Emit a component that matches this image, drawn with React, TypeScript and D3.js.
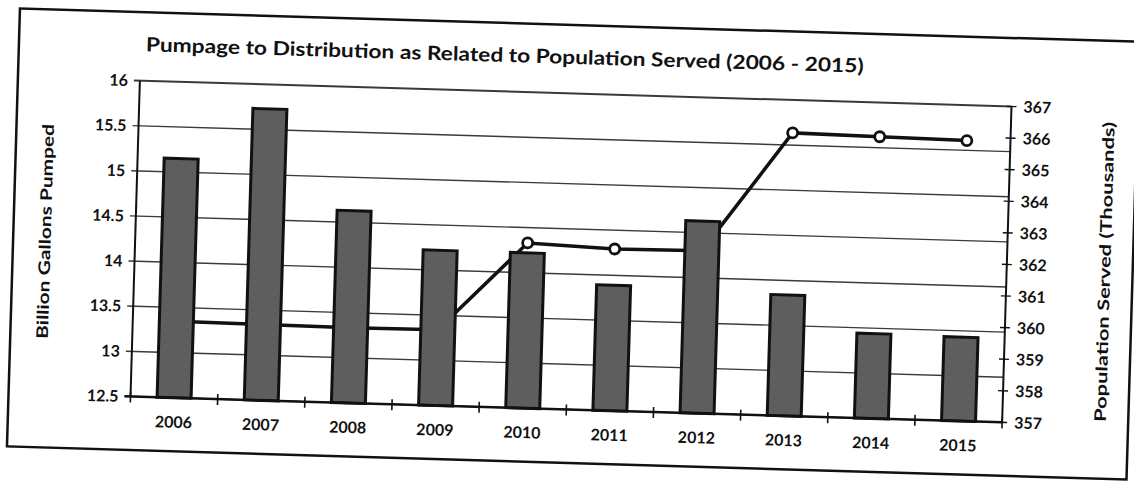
import React from "react";
import * as d3 from "d3";

const years = ["2006", "2007", "2008", "2009", "2010", "2011", "2012", "2013", "2014", "2015"];
const pumped = [15.15, 15.73, 14.63, 14.22, 14.22, 13.89, 14.63, 13.84, 13.44, 13.43];
const population = [359.42, 359.4, 359.38, 359.4, 362.23, 362.12, 362.15, 365.96, 365.92, 365.88];
const leftTicks = [12.5, 13, 13.5, 14, 14.5, 15, 15.5, 16];
const rightTicks = [357, 358, 359, 360, 361, 362, 363, 364, 365, 366, 367];

const title = "Pumpage to Distribution as Related to Population Served (2006 - 2015)";
const leftTitle = "Billion Gallons Pumped";
const rightTitle = "Population Served (Thousands)";

const W = 1134;
const H = 483;
const L = 135, R = 1007, T = 93.5, B = 409.5;
const FONT = "Lato, 'Open Sans', sans-serif";

export default function App() {
  const x = d3.scaleBand<string>().domain(years).range([L, R]).padding(0);
  const yL = d3.scaleLinear().domain([12.5, 16]).range([B, T]);
  const yR = d3.scaleLinear().domain([357, 367]).range([B, T]);
  const bw = x.bandwidth() * 0.39;
  const cx = (d: string) => (x(d) as number) + x.bandwidth() / 2;

  const line = d3
    .line<number>()
    .x((_, i) => cx(years[i]))
    .y((v) => yR(v));

  const boundaries = d3.range(0, years.length + 1).map((i) => L + i * x.bandwidth());

  return (
    <svg
      width={W}
      height={H}
      style={{ position: "absolute", left: 0, top: 0, background: "#fff" }}
      fontFamily={FONT}
    >
      <rect x={0} y={0} width={W} height={H} fill="#fff" />
      <g transform={`rotate(1.7, 571, 251.5)`}>
        {/* outer frame */}
        <rect x={13} y={25} width={1120} height={438} fill="none" stroke="#111" strokeWidth={2.5} />

        {/* title */}
        <text
          x={499}
          y={64}
          textAnchor="middle"
          fontSize={19.5}
          fontWeight={700}
          fill="#111"
          textLength={718}
          lengthAdjust="spacingAndGlyphs"
        >
          {title}
        </text>

        {/* gridlines */}
        {leftTicks.map((t) => (
          <line key={"g" + t} x1={L - 6} x2={R} y1={yL(t)} y2={yL(t)} stroke="#3a3a3a" strokeWidth={t === 16 ? 2 : 1.4} />
        ))}

        {/* population line (behind bars) */}
        <path d={line(population) || ""} fill="none" stroke="#111" strokeWidth={3.5} />
        {population.map((v, i) => (
          <circle key={"m" + i} cx={cx(years[i])} cy={yR(v)} r={5} fill="#fff" stroke="#111" strokeWidth={2.8} />
        ))}

        {/* bars */}
        {pumped.map((v, i) => (
          <rect
            key={"b" + i}
            x={cx(years[i]) - bw / 2}
            y={yL(v)}
            width={bw}
            height={B - yL(v)}
            fill="#5e5e5e"
            stroke="#111"
            strokeWidth={3}
          />
        ))}

        {/* axes */}
        <line x1={L} x2={L} y1={T} y2={B} stroke="#111" strokeWidth={2} />
        <line x1={R} x2={R} y1={T} y2={B} stroke="#111" strokeWidth={2} />
        <line x1={L - 6} x2={R} y1={B} y2={B} stroke="#111" strokeWidth={2.5} />
        {boundaries.map((bx, i) => (
          <line key={"xt" + i} x1={bx} x2={bx} y1={B - 5} y2={B + 6} stroke="#111" strokeWidth={1.6} />
        ))}
        {rightTicks.map((t) => (
          <line key={"rt" + t} x1={R - 5} x2={R + 5} y1={yR(t)} y2={yR(t)} stroke="#111" strokeWidth={1.4} />
        ))}

        {/* tick labels */}
        {leftTicks.map((t) => (
          <text key={"lt" + t} x={L - 12} y={yL(t)} dy="0.36em" textAnchor="end" fontSize={16} fontWeight={700} fill="#111">
            {String(t)}
          </text>
        ))}
        {rightTicks.map((t) => (
          <text key={"rl" + t} x={R + 12} y={yR(t)} dy="0.36em" textAnchor="start" fontSize={16} fontWeight={700} fill="#111">
            {String(t)}
          </text>
        ))}
        {years.map((yv) => (
          <text key={"xl" + yv} x={cx(yv)} y={B + 30} textAnchor="middle" fontSize={16} fontWeight={700} fill="#111">
            {yv}
          </text>
        ))}

        {/* axis titles */}
        <text
          transform={`translate(45, 247) rotate(-90)`}
          textAnchor="middle"
          dy="0.35em"
          fontSize={16}
          fontWeight={700}
          fill="#111"
          textLength={215}
          lengthAdjust="spacingAndGlyphs"
        >
          {leftTitle}
        </text>
        <text
          transform={`translate(1105, 256) rotate(-90)`}
          textAnchor="middle"
          dy="0.35em"
          fontSize={16}
          fontWeight={700}
          fill="#111"
          textLength={300}
          lengthAdjust="spacingAndGlyphs"
        >
          {rightTitle}
        </text>
      </g>
    </svg>
  );
}
